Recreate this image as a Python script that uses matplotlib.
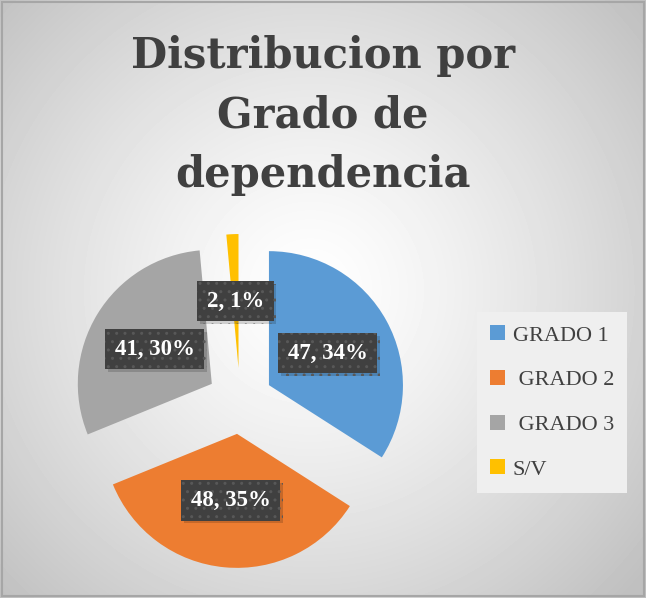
import matplotlib
matplotlib.use('Agg')
import matplotlib.pyplot as plt
import matplotlib.patheffects as pe
from matplotlib.patches import Patch, Rectangle
import numpy as np

# datos del grafico
categorias = ['GRADO 1', ' GRADO 2', ' GRADO 3', 'S/V']
valores = [47, 48, 41, 2]
colores = ['#5B9BD5', '#ED7D31', '#A5A5A5', '#FFC000']
titulo = ['Distribucion por', 'Grado de', 'dependencia']

W, H = 646, 598
fig = plt.figure(figsize=(W / 100, H / 100), dpi=100)

# fondo con degradado radial
fondo = fig.add_axes([0, 0, 1, 1])
yy, xx = np.mgrid[0:H, 0:W]
d = np.sqrt((xx - 310) ** 2 + (yy - 290) ** 2) / 440
d = np.clip(d, 0, 1)
gris = 1.0 - 0.25 * d ** 1.3
fondo.imshow(gris, cmap='gray', vmin=0, vmax=1, extent=(0, W, 0, H),
             origin='upper', aspect='auto')
fondo.axis('off')

ax = fig.add_axes([0, 0, 1, 1])
ax.patch.set_alpha(0)
total = sum(valores)

def etiqueta(p):
    return f'{round(p * total / 100)}, {p:.0f}%'

cunas, textos, autotextos = ax.pie(
    valores, colors=colores, startangle=90, counterclock=False,
    center=(240, H - 401), radius=134, explode=[33] * len(valores),
    autopct=etiqueta, pctdistance=0.5, frame=True,
    wedgeprops=dict(linewidth=0))

for t in autotextos:
    t.set(color='white', fontsize=16.5, fontweight='bold', family='Liberation Serif')
    t.set_bbox(dict(boxstyle='square,pad=0.42', fc='#404040', ec='#585858',
                    lw=0, hatch='..'))
    t.get_bbox_patch().set_path_effects([
        pe.SimplePatchShadow(offset=(2, -2), shadow_rgbFace='black', alpha=0.16),
        pe.Normal()])

ax.set_xlim(0, W)
ax.set_ylim(0, H)
ax.set_aspect('auto')
ax.axis('off')

# titulo, una linea por renglon
for linea, base in zip(titulo, [68, 128, 187]):
    fig.text(323 / W, 1 - base / H, linea, ha='center', va='baseline',
             fontsize=30, fontweight='bold', family='DejaVu Serif',
             color='#404040')

manejadores = [Patch(facecolor=c, edgecolor='none') for c in colores]
ley = fig.legend(manejadores, categorias, loc='upper left',
                 bbox_to_anchor=(477 / W, 1 - 312 / H),
                 prop={'family': 'Liberation Serif', 'size': 16},
                 frameon=True, fancybox=False, facecolor='#efefef',
                 edgecolor='none', framealpha=1, labelspacing=1.1,
                 handlelength=0.65, handleheight=0.65, handletextpad=0.35,
                 borderpad=0.6, borderaxespad=0)
for txt in ley.get_texts():
    txt.set_color('#404040')

# borde exterior
fig.patches.append(Rectangle((0.003, 0.003), 0.994, 0.994, transform=fig.transFigure,
                             fill=False, ec='#a6a6a6', lw=1.5))

fig.savefig('out.png', dpi=100)
